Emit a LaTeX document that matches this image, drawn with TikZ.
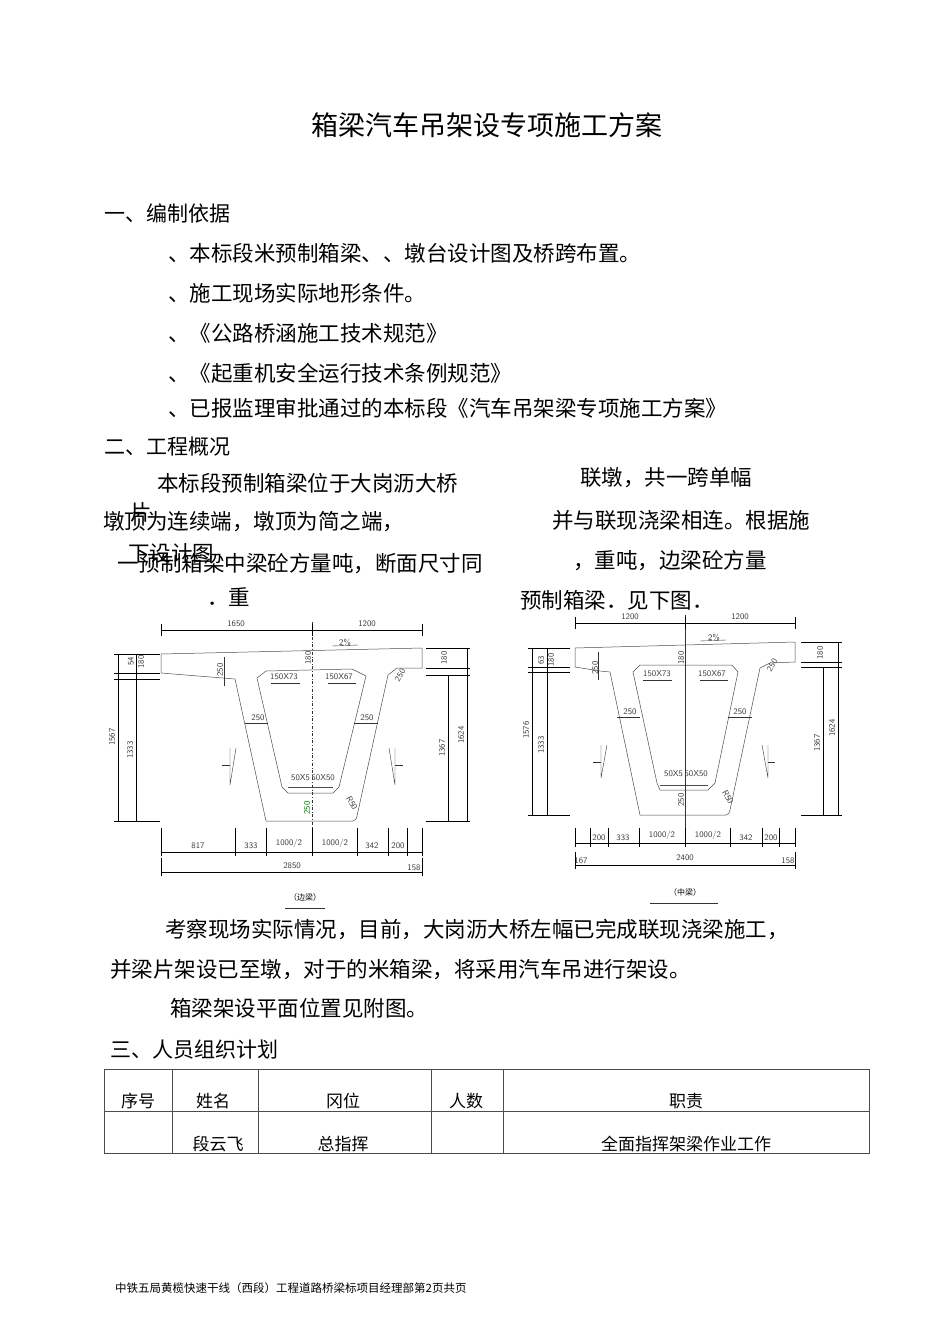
\documentclass[tikz,border=0pt]{standalone}
\usepackage{fontspec}
\newfontfamily\cjk{Noto Sans CJK SC}
\begin{document}
\begin{tikzpicture}[x=1pt,y=-1pt,
  body/.style={anchor=west,inner sep=0pt,font=\cjk\fontsize{21.5}{22}\selectfont},
  hd/.style={anchor=west,inner sep=0pt,font=\cjk\fontsize{21}{22}\selectfont},
  cell/.style={inner sep=0pt,font=\cjk\fontsize{17}{18}\selectfont},
  dimt/.style={inner sep=0pt,font=\sffamily\fontsize{8.5}{9}\selectfont,text=black!75},
  outl/.style={draw=black!70,line width=0.5pt},
  dl/.style={draw=black,line width=0.6pt},
  thin/.style={draw=black!80,line width=0.4pt}]
\useasboundingbox (0,0) rectangle (950,1344);
\fill[white] (0,0) rectangle (950,1344);
% title
\node[inner sep=0pt,font=\cjk\fontsize{27}{28}\selectfont] (title) at (487,125) {箱梁汽车吊架设专项施工方案};
\node[hd] (s1) at (104,213) {一、编制依据};
\node[body] (a1) at (168,253) {、本标段米预制箱梁、、墩台设计图及桥跨布置。};
\node[body] (a2) at (168,293) {、施工现场实际地形条件。};
\node[body] (a3) at (168,333) {、《公路桥涵施工技术规范》};
\node[body] (a4) at (168,373) {、《起重机安全运行技术条例规范》};
\node[body] (a5) at (168,408) {、已报监理审批通过的本标段《汽车吊架梁专项施工方案》};
\node[hd] (s2) at (104,447) {二、工程概况};
\node[body] (b1) at (157,483) {本标段预制箱梁位于大岗沥大桥};
\node[body] (b2) at (580,478) {联墩，共一跨单幅};
\node[body] (b3a) at (130,512) {片};
\node[body] (b3) at (103,522) {墩顶为连续端，墩顶为简之端，};
\node[body] (b4) at (552,520) {并与联现浇梁相连。根据施};
\node[body] (b5a) at (128,553) {下设计图};
\node[body] (b5) at (117,564) {一预制箱梁中梁砼方量吨，断面尺寸同};
\node[body] (b6) at (573,561) {，重吨，边梁砼方量};
\node[body] (b7) at (207,597) {．重};
\node[body] (b8) at (520,600) {预制箱梁．见下图．};
% ---------- left drawing (edge beam)
\draw[outl] (161,654) -- (422,648);
\draw[outl] (161,654) -- (161,673) -- (235,679) -- (266,821) -- (353,821)
  to[bend right=40] (357,816) -- (388,675) -- (397,668) -- (422,668) -- (422,648);
\draw[outl] (257,678) -- (266,671) -- (352,669) -- (366,676) -- (339,787) -- (333,793)
  -- (288,793) -- (282,787) -- cycle;
\draw[outl] (288,787) -- (333,787);
\draw[thin,dash dot] (312,622) -- (312,830);
\draw[dl] (161,630) -- (422,630);
\foreach \x in {161,312,422} \draw[dl] (\x,624) -- (\x,636);
\node[dimt] at (236,624) {1650};
\node[dimt] at (367,624) {1200};
\node[dimt] at (345,643) {2\%};
\draw[thin] (332,646) -- (358,645);
% left dims
\draw[dl] (118,654) -- (118,821); \draw[dl] (136,654) -- (136,821);
\foreach \y in {654,673,679,821} \draw[dl] (114,\y) -- (160,\y);
\node[dimt,rotate=90] at (112,737) {1567};
\node[dimt,rotate=90] at (130,750) {1333};
\node[dimt,rotate=90] at (131,661) {54};
\node[dimt,rotate=90] at (141,662) {180};
% right dims
\draw[dl] (448,675) -- (448,821); \draw[dl] (467,648) -- (467,821);
\foreach \y in {648,668,675,821} \draw[dl] (426,\y) -- (470,\y);
\node[dimt,rotate=90] at (442,748) {1367};
\node[dimt,rotate=90] at (461,735) {1624};
\node[dimt,rotate=90] at (444,658) {180};
% inner labels
\node[dimt,rotate=90] at (220,670) {250};
\draw[thin] (224,657) -- (224,686);
\node[dimt,rotate=90] at (308,658) {180};
\node[dimt] at (284,677) {150X73};
\node[dimt] at (339,677) {150X67};
\draw[thin] (271,683) -- (300,683); \draw[thin] (328,683) -- (356,683);
\node[dimt] at (258,718) {250}; \draw[thin] (245,723) -- (268,723);
\node[dimt] at (367,718) {250}; \draw[thin] (354,723) -- (378,723);
\node[dimt,rotate=60] at (400,675) {250};
\node[dimt] at (313,778) {50X5\,50X50};
\node[dimt,rotate=90,text=green!50!black] at (307,808) {250};
\node[dimt,rotate=-60] at (352,803) {R50};
% section marks
\draw[thin] (230,748) -- (230,785) -- (236,748); \draw[thin] (222,765) -- (230,765);
\draw[thin] (395,748) -- (395,785) -- (389,748); \draw[thin] (395,765) -- (403,765);
% bottom dims
\draw[dl] (161,852) -- (422,852);
\foreach \x in {161,235,266,312,357,388,407,422} \draw[dl] (\x,828) -- (\x,856);
\node[dimt] at (198,846) {817};
\node[dimt] at (251,846) {333};
\node[dimt] at (289,843) {1000/2};
\node[dimt] at (335,843) {1000/2};
\node[dimt] at (372,846) {342};
\node[dimt] at (398,846) {200};
\draw[dl] (161,872) -- (422,872);
\foreach \x in {161,422} \draw[dl] (\x,858) -- (\x,876);
\node[dimt] at (292,866) {2850};
\node[dimt] at (414,868) {158};
\node[inner sep=0pt,font=\cjk\fontsize{8}{9}\selectfont] (capL) at (305,897) {（边梁）};
\draw[thin] (285,908) -- (325,908);
% ---------- right drawing (middle beam)
\draw[outl] (575,648) -- (795,642);
\draw[outl] (575,648) -- (575,667) -- (600,671) -- (610,672) -- (640,815) -- (726,815)
  to[bend right=40] (730,810) -- (760,668) -- (770,663) -- (795,662) -- (795,642);
\draw[outl] (633,672) -- (640,665) -- (732,665) -- (738,672) -- (715,783) -- (708,790)
  -- (660,790) -- (657,783) -- cycle;
\draw[outl] (660,785) -- (708,785);
\draw[thin] (685,615) -- (685,830);
\draw[dl] (575,623) -- (795,623);
\foreach \x in {575,685,795} \draw[dl] (\x,617) -- (\x,629);
\node[dimt] at (630,617) {1200};
\node[dimt] at (740,617) {1200};
\node[dimt] at (714,638) {2\%};
\draw[thin] (700,641) -- (726,640);
\draw[dl] (532,648) -- (532,815); \draw[dl] (547,648) -- (547,815);
\foreach \y in {648,667,672,815} \draw[dl] (528,\y) -- (570,\y);
\node[dimt,rotate=90] at (526,730) {1576};
\node[dimt,rotate=90] at (541,745) {1333};
\node[dimt,rotate=90] at (541,660) {63};
\node[dimt,rotate=90] at (551,660) {180};
\draw[dl] (823,667) -- (823,815); \draw[dl] (838,642) -- (838,815);
\foreach \y in {642,662,667,815} \draw[dl] (801,\y) -- (842,\y);
\node[dimt,rotate=90] at (817,743) {1367};
\node[dimt,rotate=90] at (832,728) {1624};
\node[dimt,rotate=90] at (820,653) {180};
\node[dimt,rotate=90] at (595,668) {250}; \draw[thin] (598,652) -- (598,680);
\node[dimt,rotate=90] at (681,658) {180};
\node[dimt] at (657,674) {150X73};
\node[dimt] at (712,674) {150X67};
\draw[thin] (643,680) -- (672,680); \draw[thin] (700,680) -- (728,680);
\node[dimt] at (630,712) {250}; \draw[thin] (617,717) -- (640,717);
\node[dimt] at (740,712) {250}; \draw[thin] (728,717) -- (752,717);
\node[dimt,rotate=60] at (772,665) {250};
\node[dimt] at (686,774) {50X5\,50X50};
\node[dimt,rotate=90] at (681,800) {250};
\node[dimt,rotate=-60] at (728,797) {R50};
\draw[thin] (601,745) -- (601,778) -- (607,745); \draw[thin] (593,762) -- (601,762);
\draw[thin] (768,745) -- (768,778) -- (762,745); \draw[thin] (768,762) -- (775,762);
\draw[dl] (575,843) -- (795,843);
\foreach \x in {575,590,608,639,685,730,762,779,795} \draw[dl] (\x,828) -- (\x,847);
\node[dimt] at (599,838) {200};
\node[dimt] at (623,838) {333};
\node[dimt] at (662,835) {1000/2};
\node[dimt] at (708,835) {1000/2};
\node[dimt] at (746,838) {342};
\node[dimt] at (771,838) {200};
\draw[dl] (575,865) -- (795,865);
\foreach \x in {575,795} \draw[dl] (\x,852) -- (\x,869);
\node[dimt] at (685,858) {2400};
\node[dimt] at (581,861) {167};
\node[dimt] at (788,861) {158};
\node[inner sep=0pt,font=\cjk\fontsize{8}{9}\selectfont] (capR) at (685,892) {（中梁）};
\draw[thin] (650,903) -- (718,903);
% ---------- text below
\node[body] (c1) at (165,930) {考察现场实际情况，目前，大岗沥大桥左幅已完成联现浇梁施工，};
\node[body] (c2) at (110,970) {并梁片架设已至墩，对于的米箱梁，将采用汽车吊进行架设。};
\node[body] (c3) at (170,1008) {箱梁架设平面位置见附图。};
\node[hd] (s3) at (110,1050) {三、人员组织计划};
% table
\draw[black!70,line width=0.8pt] (104,1069) rectangle (869,1153);
\draw[black!70,line width=0.8pt] (104,1111) -- (869,1111);
\foreach \x in {172,258,431,503} \draw[black!70,line width=0.6pt] (\x,1069) -- (\x,1153);
\node[cell] (h1) at (138,1101) {序号};
\node[cell] (h2) at (213,1101) {姓名};
\node[cell] (h3) at (343,1101) {冈位};
\node[cell] (h4) at (466,1101) {人数};
\node[cell] (h5) at (686,1101) {职责};
\node[cell] (r2) at (218,1144) {段云飞};
\node[cell] (r3) at (343,1144) {总指挥};
\node[cell] (r5) at (686,1144) {全面指挥架梁作业工作};
\node[anchor=west,inner sep=0pt,font=\cjk\fontsize{11.5}{12}\selectfont] (foot) at (115,1288) {中铁五局黄榄快速干线（西段）工程道路桥梁标项目经理部第2页共页};
\end{tikzpicture}
\end{document}
